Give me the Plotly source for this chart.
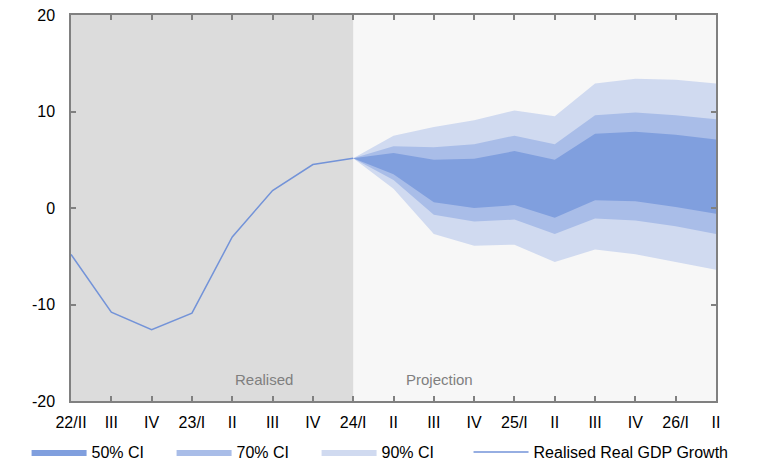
import plotly.graph_objects as go

quarters = ["22/II", "III", "IV", "23/I", "II", "III", "IV", "24/I",
            "II", "III", "IV", "25/I", "II", "III", "IV", "26/I", "II"]

y_ticks = [-20, -10, 0, 10, 20]
y_tick_labels = ["-20", "-10", "0", "10", "20"]

# Realised real GDP growth (22/II .. 24/I)
realised = [-4.8, -10.8, -12.6, -10.9, -3.0, 1.8, 4.5, 5.15]

# Projection fan bounds (24/I .. 26/II)
ci50_upper = [5.15, 5.7, 5.0, 5.1, 5.9, 5.0, 7.7, 7.9, 7.6, 7.1]
ci50_lower = [5.15, 3.5, 0.6, 0.0, 0.3, -1.0, 0.8, 0.7, 0.1, -0.6]
ci70_upper = [5.15, 6.4, 6.3, 6.6, 7.5, 6.6, 9.6, 9.9, 9.6, 9.2]
ci70_lower = [5.15, 2.9, -0.7, -1.4, -1.2, -2.7, -1.1, -1.3, -1.9, -2.7]
ci90_upper = [5.15, 7.5, 8.4, 9.1, 10.1, 9.5, 12.9, 13.4, 13.3, 12.9]
ci90_lower = [5.15, 2.0, -2.7, -3.9, -3.8, -5.6, -4.3, -4.8, -5.6, -6.4]

region_labels = ["Realised", "Projection"]

x_all = list(range(len(quarters)))
split = len(realised) - 1
x_real = x_all[:len(realised)]
x_proj = x_all[split:]

fig = go.Figure()

bands = [
    ("90% CI", ci90_lower, ci90_upper, "#d0daf0", 3),
    ("70% CI", ci70_lower, ci70_upper, "#a9bde8", 2),
    ("50% CI", ci50_lower, ci50_upper, "#809fde", 1),
]
for name, lo, hi, col, rank in bands:
    fig.add_trace(go.Scatter(
        x=x_proj + x_proj[::-1], y=hi + lo[::-1],
        fill="toself", fillcolor=col, mode="lines",
        line=dict(width=0, color=col), name=name, legendrank=rank,
        legend="legend", hoverinfo="skip"))

fig.add_trace(go.Scatter(
    x=x_real, y=realised, mode="lines",
    line=dict(color="#7393d8", width=1.5),
    name="Realised Real GDP Growth", legend="legend2"))

fig.add_shape(type="rect", xref="x", yref="y", x0=x_all[0], x1=x_all[split],
              y0=-20, y1=20, fillcolor="#dcdcdc", line=dict(width=0), layer="below")

fig.add_annotation(x=4.78, y=-17.8, text=region_labels[0],
                   showarrow=False, font=dict(size=15, color="#7f7f7f"))
fig.add_annotation(x=9.13, y=-17.8, text=region_labels[1],
                   showarrow=False, font=dict(size=15, color="#7f7f7f"))

axis_common = dict(showline=True, linecolor="#808080", linewidth=1.5, mirror="ticks",
                   ticks="inside", ticklen=5, tickcolor="#808080", tickwidth=1.5,
                   showgrid=False, zeroline=False, automargin=False,
                   ticklabeloverflow="allow",
                   tickfont=dict(size=16, color="#000000"))

fig.update_xaxes(range=[0, len(quarters) - 1], tickmode="array", tickvals=x_all,
                 ticktext=quarters, ticklabelstandoff=6, **axis_common)
fig.update_yaxes(range=[-20, 20], tickmode="array", tickvals=y_ticks,
                 ticktext=y_tick_labels, ticklabelstandoff=11, **axis_common)

legend_common = dict(orientation="h", xref="container", yref="container",
                     xanchor="left", y=0.024, yanchor="middle",
                     itemwidth=55, font=dict(size=16, color="#000000"),
                     bgcolor="rgba(0,0,0,0)")

fig.update_layout(
    template="none",
    width=774, height=455,
    margin=dict(l=63, r=66, t=7, b=62, autoexpand=False),
    paper_bgcolor="#ffffff", plot_bgcolor="#f7f7f7",
    font=dict(family="Liberation Sans, Arial, sans-serif", size=16, color="#000000"),
    showlegend=True,
    legend=dict(x=0.024, entrywidth=75, traceorder="normal", **legend_common),
    legend2=dict(x=0.595, **legend_common),
)

fig.write_html("out.html")
